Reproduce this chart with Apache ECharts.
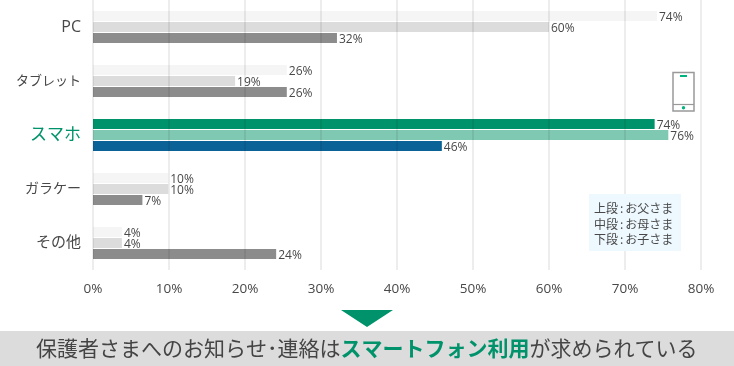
<!DOCTYPE html>
<html>
<head>
<meta charset="utf-8">
<style>
html, body { margin: 0; padding: 0; background: #fff; }
#container { width: 734px; height: 366px; }
</style>
<script src="https://cdn.jsdelivr.net/npm/echarts@6/dist/echarts.min.js"></script>
</head>
<body>
<div id="container"></div>
<script>
var categories = ['PC', 'タブレット', 'スマホ', 'ガラケー', 'その他'];
var fatherValues = [74.2, 25.5, 73.9, 9.9, 3.8];
var motherValues = [60, 18.7, 75.7, 9.9, 3.8];
var childValues = [32.1, 25.5, 45.9, 6.5, 24.1];
var noteLabels = ['上段', '中段', '下段'];
var noteNames = ['お父さま', 'お母さま', 'お子さま'];

var cjk = '"Noto Sans CJK JP", sans-serif';
var font = '"Open Sans", "Noto Sans CJK JP", sans-serif';
var textColor = '#484848';
var green = '#00936b';
var hiIndex = categories.indexOf('スマホ');
// タブレットだけ字詰めが詰まっているので小さめ
var labelSizes = [16, 13, 17, 14, 15];

function barSeries(name, values, color, hiColor) {
    return {
        name: name,
        type: 'bar',
        data: values,
        barWidth: 10,
        barGap: '10%',
        itemStyle: {
            color: function (p) { return p.dataIndex === hiIndex ? hiColor : color; }
        },
        label: {
            show: true,
            position: 'right',
            distance: 2,
            offset: [0, 2],
            fontFamily: font,
            fontSize: 12,
            color: textColor,
            formatter: function (p) { return Math.round(p.value) + '%'; }
        }
    };
}

var noteText = noteLabels.map(function (l, i) {
    return '{a|' + l + '}{c|:}{a|' + noteNames[i] + '}';
}).join('\n');

var myChart = echarts.init(document.getElementById('container'));
myChart.setOption({
    animation: false,
    grid: { left: 93, top: 0, width: 608, height: 270 },
    xAxis: {
        type: 'value',
        min: 0,
        max: 80,
        interval: 10,
        z: 5,
        axisLine: { show: false },
        axisTick: { show: false },
        axisLabel: {
            margin: 12,
            fontFamily: font,
            fontSize: 13.5,
            color: textColor,
            formatter: '{value}%'
        },
        splitLine: { lineStyle: { color: 'rgba(0,0,0,0.07)', width: 2 } }
    },
    yAxis: {
        type: 'category',
        inverse: true,
        data: categories.map(function (c, i) {
            return {
                value: c,
                textStyle: { color: i === hiIndex ? green : textColor, fontSize: labelSizes[i] }
            };
        }),
        axisLine: { show: false },
        axisTick: { length: 4, lineStyle: { color: '#ebebeb', width: 2 } },
        axisLabel: { margin: 12, fontFamily: font }
    },
    series: [
        barSeries('お父さま', fatherValues, '#f5f5f5', green),
        barSeries('お母さま', motherValues, '#dcdcdc', '#7fc9b3'),
        barSeries('お子さま', childValues, '#8c8c8c', '#0b6296')
    ],
    graphic: [
        // 凡例の箱
        { type: 'rect', shape: { x: 589, y: 194, width: 92, height: 57 }, style: { fill: '#eef8ff' }, z: 10 },
        {
            type: 'text', x: 594, y: 201, z: 11,
            style: {
                text: noteText,
                rich: {
                    a: { font: '12px ' + cjk, fill: textColor, lineHeight: 15.5 },
                    c: { font: '12px ' + cjk, fill: textColor, lineHeight: 15.5, padding: [0, 2] }
                }
            }
        },
        // スマホのアイコン
        { type: 'rect', shape: { x: 673, y: 72.5, width: 21, height: 38.5 }, style: { fill: '#fff', stroke: '#999', lineWidth: 1.5 }, z: 10 },
        { type: 'line', shape: { x1: 673, y1: 104.5, x2: 694, y2: 104.5 }, style: { stroke: '#999', lineWidth: 1.2 }, z: 11 },
        { type: 'rect', shape: { x: 680, y: 75, width: 7, height: 2 }, style: { fill: '#00b481' }, z: 11 },
        { type: 'circle', shape: { cx: 683.5, cy: 107.7, r: 1.7 }, style: { fill: '#00b481' }, z: 11 },
        // 下の帯
        { type: 'polygon', shape: { points: [[341, 310], [393, 310], [367, 327]] }, style: { fill: green }, z: 10 },
        { type: 'rect', shape: { x: 0, y: 331, width: 734, height: 35 }, style: { fill: '#dcdcdc' }, z: 10 },
        {
            type: 'text', x: 36, y: 338, z: 11,
            style: {
                text: '{a|保護者さまへのお知らせ･連絡は}{b|スマートフォン利用}{a|が求められている}',
                rich: {
                    a: { font: '21px ' + cjk, fill: '#444' },
                    b: { font: 'bold 21px ' + cjk, fill: green }
                }
            }
        }
    ]
});
</script>
</body>
</html>
